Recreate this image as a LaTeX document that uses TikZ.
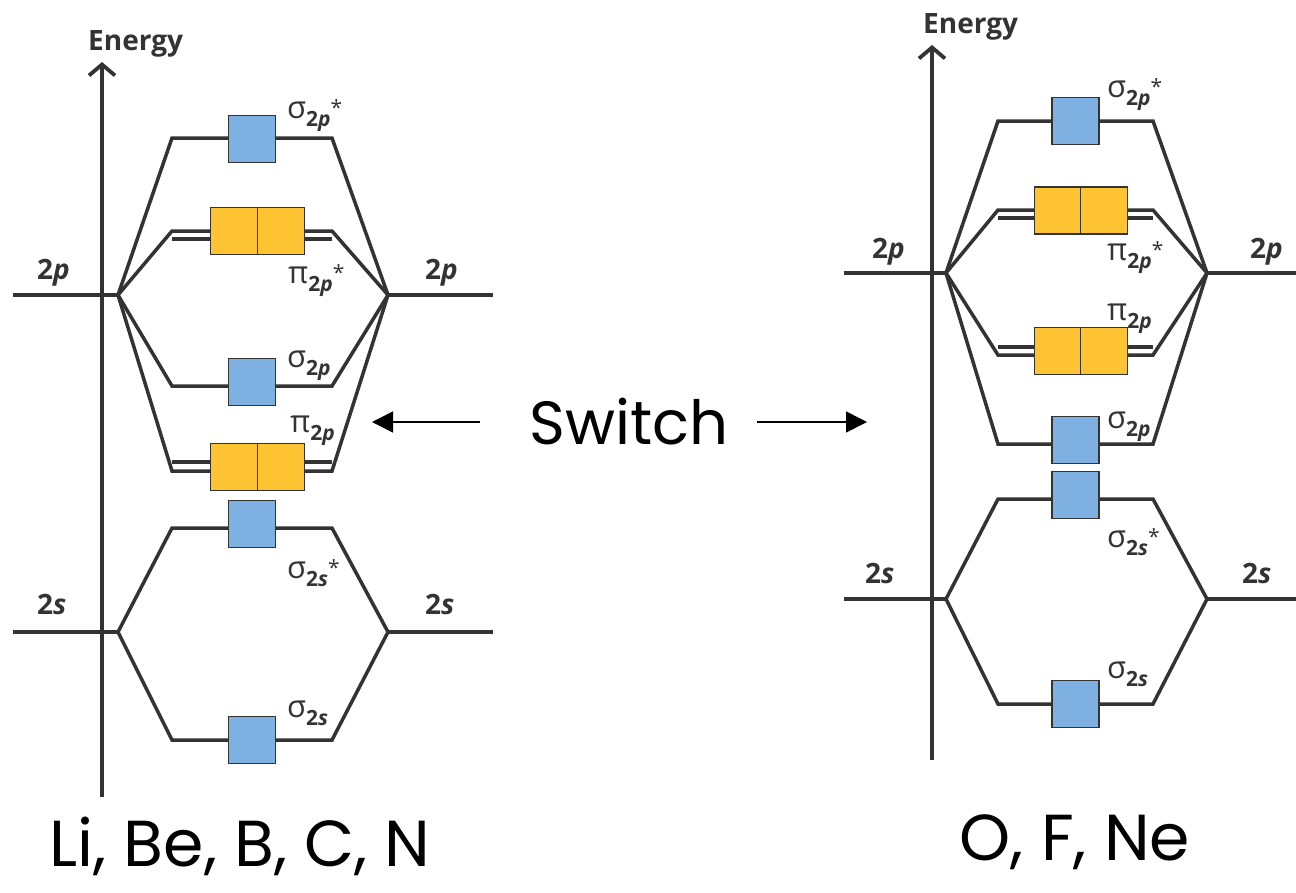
\documentclass[tikz,border=0pt]{standalone}
\usepackage{fontspec}
\setmainfont{Open Sans}
\newfontfamily\handfont{Poppins}
\usetikzlibrary{arrows.meta}
\definecolor{ink}{HTML}{333333}
\definecolor{sblue}{HTML}{7EB1E1}
\definecolor{pyellow}{HTML}{FEC332}

% orbital label: greek letter, subscript 2s/2p, optional star
\newcommand{\molbl}[3]{{\fontsize{31}{31}\selectfont #1}\raisebox{-8pt}{\fontsize{21}{21}\selectfont\bfseries 2\textit{#2}}\raisebox{3pt}{\fontsize{21}{21}\selectfont #3}}
\newcommand{\aolbl}[1]{\fontsize{28}{28}\selectfont\bfseries 2\textit{#1}}

\tikzset{
  mo/.style={draw=ink, line width=3.5pt},
  axisline/.style={draw=ink, line width=3.5pt, -{Straight Barb[length=11pt,width=26pt,line width=3.8pt]}},
  sbox/.style={draw=ink, fill=sblue, line width=1.8pt, minimum size=47pt, inner sep=0pt},
  pbox/.style={draw=ink, fill=pyellow, line width=1.8pt, minimum size=47pt, inner sep=0pt},
  lbl/.style={anchor=base west, inner sep=0pt, text=ink},
  energy/.style={anchor=base west, inner sep=0pt, text=ink, font=\fontsize{28}{28}\selectfont\bfseries},
  hand/.style={anchor=base, inner sep=0pt, text=black, font=\handfont\fontsize{61}{61}\selectfont},
  bighand/.style={hand, font=\handfont\fontsize{65}{65}\selectfont},
  swarrow/.style={draw=black, line width=1.6pt, -{Triangle[length=21pt,width=21pt]}}
}

\begin{document}
\begin{tikzpicture}[x=1pt, y=-1pt]
\useasboundingbox (0,0) rectangle (1296,892);

% ================= left diagram: Li, Be, B, C, N =================
\coordinate (Lax0) at (102,797);
\coordinate (Lax1) at (102,62);
\draw[axisline] (Lax0) -- (Lax1);
\node[energy] (Lenergy) at (88,50) {Energy};

% atomic levels
\coordinate (La2pE) at (13,295);  \coordinate (La2p) at (118,295);
\coordinate (Lb2p) at (388,295);  \coordinate (Lb2pE) at (493,295);
\coordinate (La2sE) at (13,632);  \coordinate (La2s) at (118,632);
\coordinate (Lb2s) at (388,632);  \coordinate (Lb2sE) at (493,632);
\draw[mo] (La2pE) -- (La2p);
\draw[mo] (Lb2p) -- (Lb2pE);
\draw[mo] (La2sE) -- (La2s);
\draw[mo] (Lb2s) -- (Lb2sE);

% molecular level corners
\coordinate (Ls2pxA) at (172,138); \coordinate (Ls2pxB) at (332,138);
\coordinate (Lp2pxA) at (172,231); \coordinate (Lp2pxB) at (332,231);
\coordinate (Lp2pxC) at (172,239); \coordinate (Lp2pxD) at (332,239);
\coordinate (Ls2pA) at (172,386);  \coordinate (Ls2pB) at (332,386);
\coordinate (Lp2pC) at (172,462);  \coordinate (Lp2pD) at (332,462);
\coordinate (Lp2pA) at (172,471);  \coordinate (Lp2pB) at (332,471);
\coordinate (Ls2sxA) at (172,528); \coordinate (Ls2sxB) at (332,528);
\coordinate (Ls2sA) at (172,740);  \coordinate (Ls2sB) at (332,740);

\draw[mo] (La2p) -- (Ls2pxA) -- (Ls2pxB) -- (Lb2p);
\draw[mo] (La2p) -- (Lp2pxA) -- (Lp2pxB) -- (Lb2p);
\draw[mo] (Lp2pxC) -- (Lp2pxD);
\draw[mo] (La2p) -- (Ls2pA) -- (Ls2pB) -- (Lb2p);
\draw[mo] (La2p) -- (Lp2pA) -- (Lp2pB) -- (Lb2p);
\draw[mo] (Lp2pC) -- (Lp2pD);
\draw[mo] (La2s) -- (Ls2sxA) -- (Ls2sxB) -- (Lb2s);
\draw[mo] (La2s) -- (Ls2sA) -- (Ls2sB) -- (Lb2s);

% orbital boxes
\node[sbox] (Lbs2px) at (252,139) {};
\node[pbox] (Lbp2pxa) at (234,231) {};
\node[pbox] (Lbp2pxb) at (281,231) {};
\node[sbox] (Lbs2p) at (252,382) {};
\node[pbox] (Lbp2pa) at (234,467) {};
\node[pbox] (Lbp2pb) at (281,467) {};
\node[sbox] (Lbs2sx) at (252,524) {};
\node[sbox] (Lbs2s) at (252,740) {};

% labels
\node[lbl] (Llaoa) at (37,279) {\aolbl{p}};
\node[lbl] (Llaob) at (425,279) {\aolbl{p}};
\node[lbl] (Llsoa) at (37,614) {\aolbl{s}};
\node[lbl] (Llsob) at (425,614) {\aolbl{s}};
\node[lbl] (Ll1) at (287,118) {\molbl{σ}{p}{*}};
\node[lbl] (Ll2) at (288,283) {\molbl{π}{p}{*}};
\node[lbl] (Ll3) at (287,367) {\molbl{σ}{p}{}};
\node[lbl] (Ll4) at (290,432) {\molbl{π}{p}{}};
\node[lbl] (Ll5) at (287,578) {\molbl{σ}{s}{*}};
\node[lbl] (Ll6) at (287,717) {\molbl{σ}{s}{}};

\node[bighand] (Lname) at (240,866) {Li, Be, B, C, N};

% ================= switch =================
\node[hand] (sw) at (629,444) {Switch};
\coordinate (swLa) at (480,422); \coordinate (swLb) at (372,422);
\coordinate (swRa) at (757,422); \coordinate (swRb) at (867,422);
\draw[swarrow] (swLa) -- (swLb);
\draw[swarrow] (swRa) -- (swRb);

% ================= right diagram: O, F, Ne =================
\coordinate (Rax0) at (932,760);
\coordinate (Rax1) at (932,45);
\draw[axisline] (Rax0) -- (Rax1);
\node[energy] (Renergy) at (923,33) {Energy};

\coordinate (Ra2pE) at (844,273);  \coordinate (Ra2p) at (946,273);
\coordinate (Rb2p) at (1207,273);  \coordinate (Rb2pE) at (1296,273);
\coordinate (Ra2sE) at (844,599);  \coordinate (Ra2s) at (946,599);
\coordinate (Rb2s) at (1207,599);  \coordinate (Rb2sE) at (1296,599);
\draw[mo] (Ra2pE) -- (Ra2p);
\draw[mo] (Rb2p) -- (Rb2pE);
\draw[mo] (Ra2sE) -- (Ra2s);
\draw[mo] (Rb2s) -- (Rb2sE);

\coordinate (Rs2pxA) at (998,121);  \coordinate (Rs2pxB) at (1153,121);
\coordinate (Rp2pxA) at (998,210);  \coordinate (Rp2pxB) at (1153,210);
\coordinate (Rp2pxC) at (998,218);  \coordinate (Rp2pxD) at (1153,218);
\coordinate (Rp2pC) at (998,347);   \coordinate (Rp2pD) at (1153,347);
\coordinate (Rp2pA) at (998,355);   \coordinate (Rp2pB) at (1153,355);
\coordinate (Rs2pA) at (998,444);   \coordinate (Rs2pB) at (1153,444);
\coordinate (Rs2sxA) at (998,499);  \coordinate (Rs2sxB) at (1153,499);
\coordinate (Rs2sA) at (998,704);   \coordinate (Rs2sB) at (1153,704);

\draw[mo] (Ra2p) -- (Rs2pxA) -- (Rs2pxB) -- (Rb2p);
\draw[mo] (Ra2p) -- (Rp2pxA) -- (Rp2pxB) -- (Rb2p);
\draw[mo] (Rp2pxC) -- (Rp2pxD);
\draw[mo] (Ra2p) -- (Rp2pA) -- (Rp2pB) -- (Rb2p);
\draw[mo] (Rp2pC) -- (Rp2pD);
\draw[mo] (Ra2p) -- (Rs2pA) -- (Rs2pB) -- (Rb2p);
\draw[mo] (Ra2s) -- (Rs2sxA) -- (Rs2sxB) -- (Rb2s);
\draw[mo] (Ra2s) -- (Rs2sA) -- (Rs2sB) -- (Rb2s);

\node[sbox] (Rbs2px) at (1075.5,121) {};
\node[pbox] (Rbp2pxa) at (1058,210.5) {};
\node[pbox] (Rbp2pxb) at (1104,210.5) {};
\node[pbox] (Rbp2pa) at (1058,351) {};
\node[pbox] (Rbp2pb) at (1104,351) {};
\node[sbox] (Rbs2p) at (1075.5,440) {};
\node[sbox] (Rbs2sx) at (1075.5,495) {};
\node[sbox] (Rbs2s) at (1075.5,704) {};

\node[lbl] (Rlaoa) at (872,258) {\aolbl{p}};
\node[lbl] (Rlaob) at (1250,258) {\aolbl{p}};
\node[lbl] (Rlsoa) at (865,583) {\aolbl{s}};
\node[lbl] (Rlsob) at (1242,583) {\aolbl{s}};
\node[lbl] (Rl1) at (1107,97) {\molbl{σ}{p}{*}};
\node[lbl] (Rl2) at (1107,260) {\molbl{π}{p}{*}};
\node[lbl] (Rl3) at (1107,320) {\molbl{π}{p}{}};
\node[lbl] (Rl4) at (1107,428) {\molbl{σ}{p}{}};
\node[lbl] (Rl5) at (1107,547) {\molbl{σ}{s}{*}};
\node[lbl] (Rl6) at (1107,678) {\molbl{σ}{s}{}};

\node[bighand] (Rname) at (1075,860) {O, F, Ne};
\end{tikzpicture}
\end{document}
